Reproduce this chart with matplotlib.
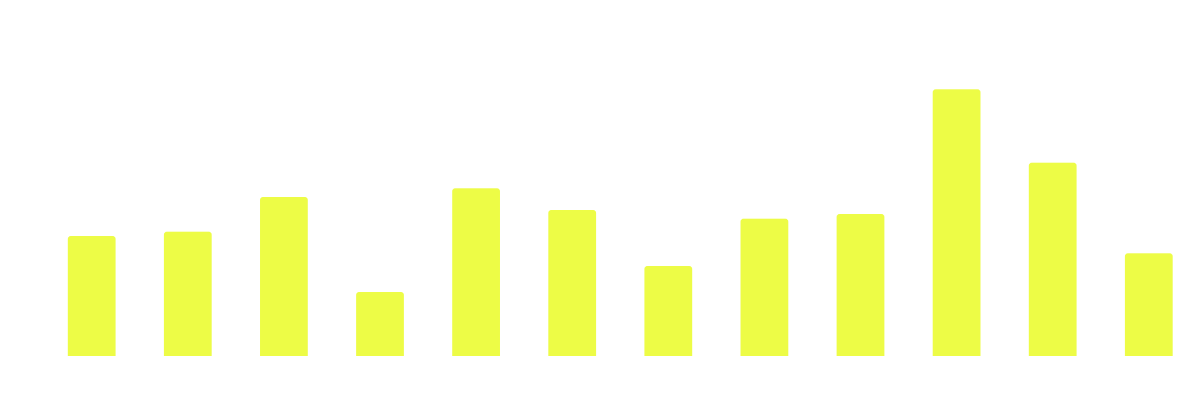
import matplotlib
matplotlib.use("Agg")
import matplotlib.pyplot as plt
from matplotlib.patches import FancyBboxPatch

# values (arbitrary units)
categories = ["1", "2", "3", "4", "5", "6", "7", "8", "9", "10", "11", "12"]
values = [120.3, 124.6, 159.3, 64.3, 168.0, 146.3, 90.3, 137.6, 142.3, 267.0, 193.6, 103.0]

BAR_COLOR = "#EDFC46"

fig = plt.figure(figsize=(12, 4), dpi=100)
ax_w_px = 1153.2
ax = fig.add_axes([43.65 / 1200, 0.10925, ax_w_px / 1200, 0.75])

x = list(range(len(categories)))
bars = ax.bar(x, values, width=0.497, color=BAR_COLOR, linewidth=0)

ax.set_xlim(-0.5, len(categories) - 0.5)
ax.set_ylim(0, 300)

# 換成圓角頂部 (底部延伸到 0 以下再被裁掉)
px_x = ax_w_px / len(categories)  # pixels per x unit
px_y = 300 / 300                  # pixels per y unit
r = 3.0
for b in bars:
    b.set_visible(False)
    x0 = b.get_x()
    w = b.get_width()
    h = b.get_height()
    patch = FancyBboxPatch((x0, -10), w, h + 10,
                           boxstyle=f"round,pad=0,rounding_size={r / px_x}",
                           mutation_aspect=px_x / px_y,
                           facecolor=BAR_COLOR, edgecolor="none")
    ax.add_patch(patch)

ax.axis("off")
fig.savefig("out.png", dpi=100, facecolor="white")
